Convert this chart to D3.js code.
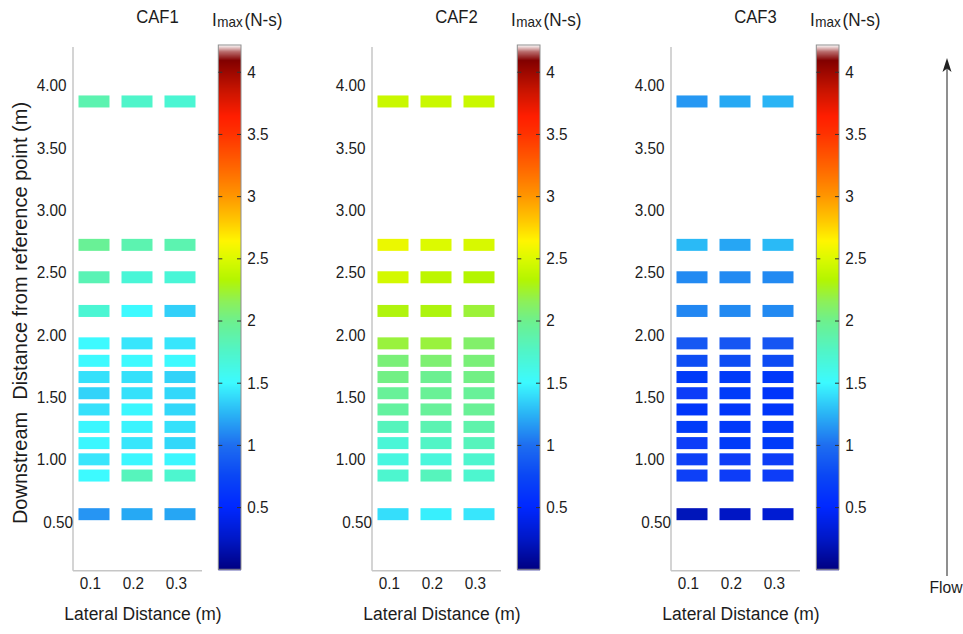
<!DOCTYPE html>
<html><head><meta charset="utf-8">
<script src="https://cdn.jsdelivr.net/npm/d3@7"></script>
<style>
html,body{margin:0;padding:0;background:#fff;}
svg{display:block;font-family:"Liberation Sans", Arial, sans-serif;}
</style></head><body>
<svg id="chart" width="963" height="634"></svg>
<script>
// Peak impulse I_max (N-s) measured on a grid of sensors for three configurations
const panelNames = ["CAF1", "CAF2", "CAF3"];
const lateral = [0.1, 0.2, 0.3];                      // m, across the channel
const downstream = [3.87, 2.72, 2.46, 2.19, 1.93, 1.79, 1.66, 1.53, 1.40, 1.26, 1.13, 1.00, 0.87, 0.56]; // m
// one row per downstream position, columns follow `lateral`
const caf1 = [
  [1.85, 1.74, 1.70],
  [1.96, 1.85, 1.85],
  [1.83, 1.68, 1.68],
  [1.70, 1.50, 1.35],
  [1.50, 1.43, 1.43],
  [1.50, 1.50, 1.50],
  [1.41, 1.41, 1.36],
  [1.36, 1.41, 1.38],
  [1.41, 1.49, 1.38],
  [1.49, 1.48, 1.41],
  [1.49, 1.43, 1.38],
  [1.43, 1.49, 1.49],
  [1.50, 1.80, 1.72],
  [1.14, 1.21, 1.20]
];
const caf2 = [
  [2.42, 2.42, 2.42],
  [2.56, 2.50, 2.48],
  [2.46, 2.37, 2.33],
  [2.31, 2.30, 2.22],
  [2.21, 2.21, 2.10],
  [2.06, 2.08, 2.06],
  [2.02, 1.98, 2.02],
  [1.95, 1.96, 1.95],
  [1.92, 1.94, 1.96],
  [1.80, 1.84, 1.87],
  [1.68, 1.76, 1.80],
  [1.64, 1.66, 1.72],
  [1.72, 1.80, 1.72],
  [1.40, 1.46, 1.43]
];
const caf3 = [
  [1.15, 1.21, 1.25],
  [1.27, 1.20, 1.27],
  [1.10, 1.10, 1.10],
  [1.09, 1.10, 1.10],
  [0.87, 0.85, 0.85],
  [0.80, 0.80, 0.78],
  [0.65, 0.65, 0.63],
  [0.68, 0.65, 0.62],
  [0.62, 0.62, 0.62],
  [0.65, 0.63, 0.63],
  [0.68, 0.66, 0.66],
  [0.69, 0.68, 0.68],
  [0.70, 0.68, 0.68],
  [0.20, 0.24, 0.30]
];
const panelData = [caf1, caf2, caf3];

const yTicks = [0.5, 1.0, 1.5, 2.0, 2.5, 3.0, 3.5, 4.0];
const xTicks = [0.1, 0.2, 0.3];
const cbTicks = [0.5, 1, 1.5, 2, 2.5, 3, 3.5, 4];

// jet-like colour map with a white cap above the maximum
const cmapStops  = [0, 0.25, 0.5, 0.75, 1.0, 1.25, 1.5, 1.75, 2.0, 2.15, 2.33, 2.5, 2.64, 2.8, 3.0, 3.24, 3.5, 3.64, 3.85, 4.09, 4.16, 4.215];
const cmapColors = ["#000082", "#0018c8", "#0028ff", "#0a46f5", "#1e6ef0", "#2ab4f5", "#3cfaff", "#50f5c8",
                    "#6ef08c", "#8cf05a", "#b4f500", "#dcfa00", "#fff500", "#ffc800", "#ff9600", "#ff6400",
                    "#ff3200", "#ff1e00", "#c81400", "#820000", "#b86a6a", "#ffffff"];
const color = d3.scaleLinear().domain(cmapStops).range(cmapColors)
  .interpolate(d3.interpolateRgb).clamp(true);

const svg = d3.select("#chart");
svg.append("rect").attr("width", 963).attr("height", 634).attr("fill", "#fff");

const defs = svg.append("defs");
defs.append("filter").attr("id", "soft")
  .attr("x", "-20%").attr("y", "-40%").attr("width", "140%").attr("height", "180%")
  .append("feGaussianBlur").attr("stdDeviation", 0.75);

const TXT = "#1c1c1c";
const K = 0.9;             // horizontal squeeze of the lettering

// narrow the glyphs horizontally while keeping their anchor point
function squeeze(sel, k, shiftX) {
  sel.each(function (d) {
    const t = d3.select(this);
    const x0 = (+t.attr("x") || 0) + (shiftX ? shiftX(d) : 0);
    const y0 = +t.attr("y") || 0;
    t.attr("x", null).attr("y", null)
     .attr("transform", `translate(${x0},${y0}) scale(${k},1)`);
  });
}

const PANEL_DX = 299;
const plotL = 72.5, plotR = 201.5, plotT = 46.6, plotB = 570.3;
const x = d3.scaleLinear().domain([0.05, 0.35]).range([plotL, plotR]);
const y = d3.scaleLinear().domain([0.11, 4.31]).range([plotB, plotT]);
const cb = d3.scaleLinear().domain([0, 4.215]).range([569.3, 45]);
const cbL = 218.3, cbW = 22.7;
const cellW = 31, cellH = 12;

panelNames.forEach((name, i) => {
  const g = svg.append("g").attr("transform", `translate(${i * PANEL_DX},0)`);
  const data = panelData[i];

  // sensor cells
  const cells = g.append("g").attr("filter", "url(#soft)");
  downstream.forEach((ds, r) => {
    cells.selectAll(null).data(lateral.map((lat, c) => ({ lat, ds, v: data[r][c] })))
      .join("rect")
      .attr("x", d => x(d.lat) - cellW / 2)
      .attr("y", d => y(d.ds) - cellH / 2)
      .attr("width", cellW).attr("height", cellH)
      .attr("fill", d => color(d.v));
  });

  // left axis
  const ya = g.append("g").attr("transform", `translate(${plotL},0)`)
    .call(d3.axisLeft(y).tickValues(yTicks).tickFormat(d3.format(".2f")).tickSize(0).tickSizeOuter(0).tickPadding(6));
  ya.select(".domain").attr("stroke", "#c6c6c6").attr("stroke-width", 1.5);
  ya.selectAll("text").attr("fill", TXT).attr("font-size", 17).attr("font-family", "Liberation Sans, Arial, sans-serif");
  squeeze(ya.selectAll("text"), K, d => (d === yTicks[0] ? 6.5 : 0));

  // bottom axis
  const xa = g.append("g").attr("transform", `translate(0,${plotB})`)
    .call(d3.axisBottom(x).tickValues(xTicks).tickFormat(d3.format(".1f")).tickSize(0).tickSizeOuter(0).tickPadding(7));
  xa.select(".domain").attr("stroke", "#c6c6c6").attr("stroke-width", 1.5);
  xa.selectAll("text").attr("fill", TXT).attr("font-size", 17).attr("font-family", "Liberation Sans, Arial, sans-serif");
  squeeze(xa.selectAll("text"), K, () => -4);

  // x axis title
  g.append("text").attr("x", 143).attr("y", 620)
    .attr("text-anchor", "middle").attr("font-size", 19).attr("fill", TXT)
    .text("Lateral Distance (m)")
    .call(s => squeeze(s, 0.92));

  // panel title
  g.append("text").attr("x", 157.5).attr("y", 23)
    .attr("text-anchor", "middle").attr("font-size", 18.5).attr("fill", TXT)
    .text(name)
    .call(s => squeeze(s, K));

  // colour bar
  const bar = g.append("g");
  bar.selectAll("rect").data(d3.range(45, 569.3, 1)).join("rect")
    .attr("x", cbL).attr("y", d => d).attr("width", cbW).attr("height", 1.3)
    .attr("fill", d => color(cb.invert(d + 0.5)));
  bar.append("rect").attr("x", cbL).attr("y", 45).attr("width", cbW).attr("height", 569.3 - 45)
    .attr("fill", "none").attr("stroke", "#8f8f8f").attr("stroke-width", 1);

  const cbr = g.append("g").attr("transform", `translate(${cbL + cbW},0)`)
    .call(d3.axisRight(cb).tickValues(cbTicks).tickFormat(d => String(d)).tickSizeInner(-4).tickSizeOuter(0).tickPadding(6.3));
  cbr.select(".domain").remove();
  cbr.selectAll("line").attr("stroke", "#333").attr("stroke-width", 1);
  cbr.selectAll("text").attr("fill", TXT).attr("font-size", 17).attr("font-family", "Liberation Sans, Arial, sans-serif");
  squeeze(cbr.selectAll("text"), K);

  const cbl = g.append("g").attr("transform", `translate(${cbL},0)`)
    .call(d3.axisLeft(cb).tickValues(cbTicks).tickFormat("").tickSizeInner(-4).tickSizeOuter(0));
  cbl.select(".domain").remove();
  cbl.selectAll("line").attr("stroke", "#333").attr("stroke-width", 1);

  // colour bar title: I_max (N-s)
  const lab = g.append("text").attr("transform", `translate(212,25.5) scale(${K},1)`)
    .attr("fill", TXT).attr("font-size", 19);
  lab.append("tspan").text("I");
  lab.append("tspan").attr("font-size", 15).attr("dy", 1.8).attr("dx", 0.5).text("max");
  lab.append("tspan").attr("dy", -1.8).attr("dx", 2).text("(N-s)");
});

// y axis title (first panel only)
const yt = svg.append("text").attr("transform", "translate(27,313) rotate(-90)")
  .attr("text-anchor", "middle").attr("font-size", 20).attr("fill", TXT);
yt.append("tspan").text("Downstream");
yt.append("tspan").attr("dx", 12).text("Distance from reference point (m)");

// flow direction arrow
const arrow = svg.append("g");
arrow.append("line").attr("x1", 947).attr("x2", 947).attr("y1", 576).attr("y2", 66)
  .attr("stroke", "#333").attr("stroke-width", 1.1);
arrow.append("path").attr("d", "M947,58 L942.5,72 L947,68.5 L951.5,72 Z").attr("fill", "#222");
svg.append("text").attr("x", 946).attr("y", 593).attr("text-anchor", "middle")
  .attr("font-size", 16.5).attr("fill", TXT).text("Flow")
  .call(s => squeeze(s, 0.95));
</script>
</body></html>
